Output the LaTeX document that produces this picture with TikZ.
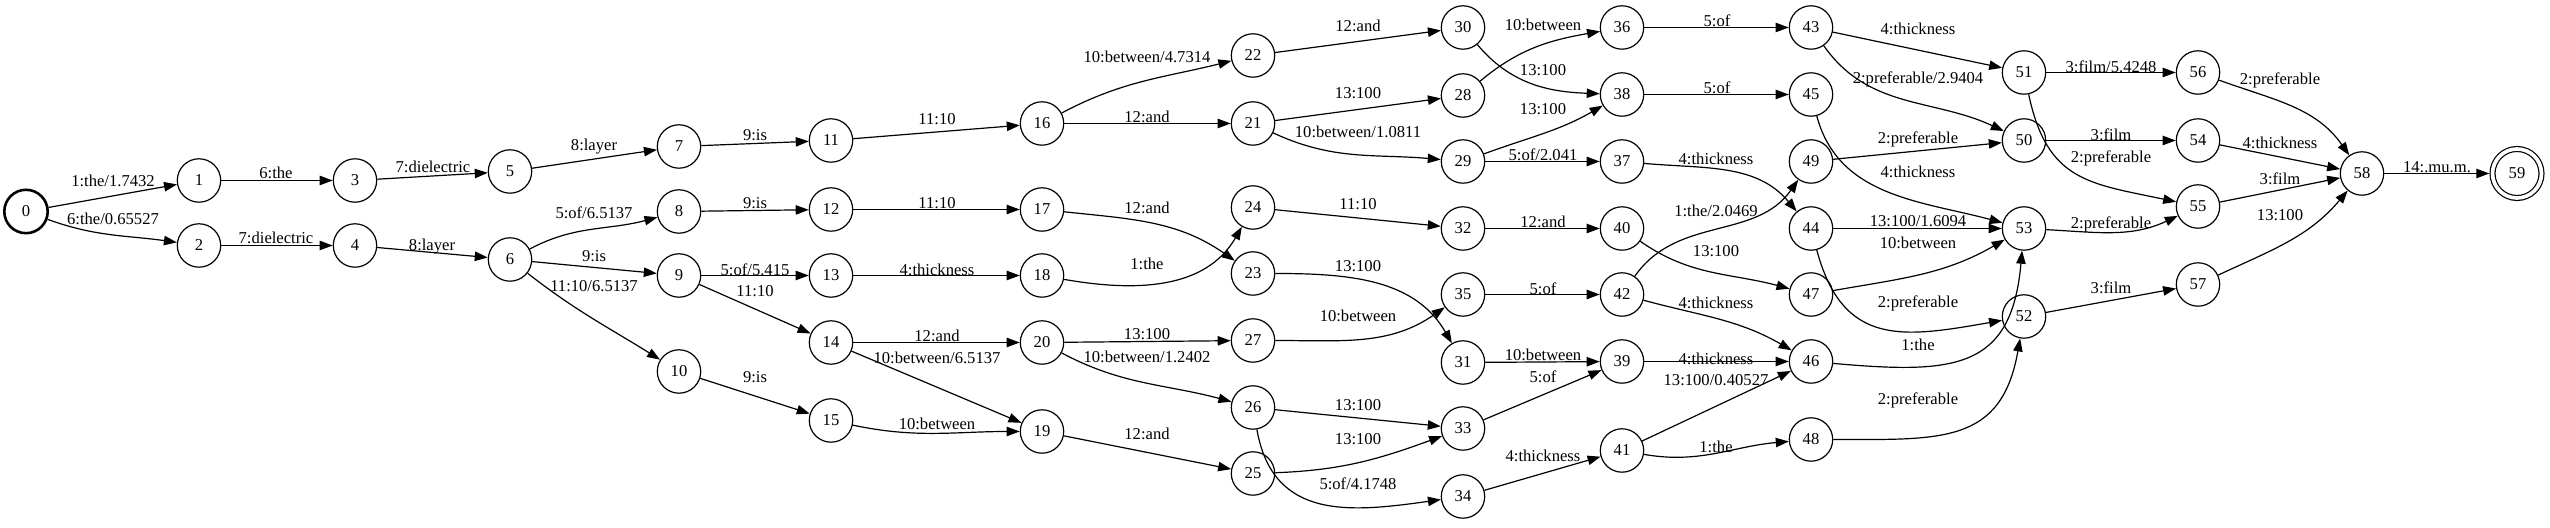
\documentclass[tikz,border=0pt]{standalone}
\usepackage{fontspec}
\setmainfont{Liberation Serif}
\usepackage{tikz}
\usetikzlibrary{arrows.meta}

\begin{document}
\begin{tikzpicture}[
x=0.5pt, y=0.5pt,
line width=0.6pt,
font=\fontsize{8.3}{10}\selectfont,
state/.style={draw, circle, minimum size=21.7pt, inner sep=0pt},
startstate/.style={state, line width=1.3pt},
finalstate/.style={state, double, double distance=1.85pt, minimum size=24.5pt, outer sep=1.6pt},
lbl/.style={inner sep=0pt, text height=1.5ex, text depth=0pt},
>={Triangle[length=6.5pt,width=4.7pt]}
]
\useasboundingbox (0,0.5) rectangle (2550,528.5);

\node[startstate] (n0) at (26,317) {0};

\node[state] (n1) at (199,348) {1};
\node[state] (n2) at (199,283) {2};

\node[state] (n3) at (355,348) {3};
\node[state] (n4) at (355,283) {4};

\node[state] (n5) at (510,357) {5};
\node[state] (n6) at (510,269) {6};

\node[state] (n7) at (679,382) {7};
\node[state] (n8) at (679,317) {8};
\node[state] (n9) at (679,253) {9};
\node[state] (n10) at (679,157) {10};

\node[state] (n11) at (831,388) {11};
\node[state] (n12) at (831,319) {12};
\node[state] (n13) at (831,253) {13};
\node[state] (n14) at (831,186) {14};
\node[state] (n15) at (831,108) {15};

\node[state] (n16) at (1042,405) {16};
\node[state] (n17) at (1042,319) {17};
\node[state] (n18) at (1042,253) {18};
\node[state] (n20) at (1042,186) {20};
\node[state] (n19) at (1042,97) {19};

\node[state] (n22) at (1253,473) {22};
\node[state] (n21) at (1253,405) {21};
\node[state] (n24) at (1253,321) {24};
\node[state] (n23) at (1253,255) {23};
\node[state] (n27) at (1253,188) {27};
\node[state] (n26) at (1253,121) {26};
\node[state] (n25) at (1253,55) {25};

\node[state] (n30) at (1463,501) {30};
\node[state] (n28) at (1463,433) {28};
\node[state] (n29) at (1463,367) {29};
\node[state] (n32) at (1463,300) {32};
\node[state] (n35) at (1463,234) {35};
\node[state] (n31) at (1463,166) {31};
\node[state] (n33) at (1463,100) {33};
\node[state] (n34) at (1463,32) {34};

\node[state] (n36) at (1622,501) {36};
\node[state] (n38) at (1622,434) {38};
\node[state] (n37) at (1622,367) {37};
\node[state] (n40) at (1622,300) {40};
\node[state] (n42) at (1622,234) {42};
\node[state] (n39) at (1622,167) {39};
\node[state] (n41) at (1622,78) {41};

\node[state] (n43) at (1811,501) {43};
\node[state] (n45) at (1811,434) {45};
\node[state] (n49) at (1811,367) {49};
\node[state] (n44) at (1811,300) {44};
\node[state] (n47) at (1811,234) {47};
\node[state] (n46) at (1811,167) {46};
\node[state] (n48) at (1811,89) {48};

\node[state] (n51) at (2024,456) {51};
\node[state] (n50) at (2024,388) {50};
\node[state] (n53) at (2024,300) {53};
\node[state] (n52) at (2024,212) {52};

\node[state] (n56) at (2198,456) {56};
\node[state] (n54) at (2198,388) {54};
\node[state] (n55) at (2198,322) {55};
\node[state] (n57) at (2198,244) {57};

\node[state] (n58) at (2362,355) {58};

\node[finalstate] (n59) at (2517,355) {59};

\draw[->] (n0) -- (n1) node[lbl] at (113,349) {1:the/1.7432};
\draw[->] (n0) to[out=-20,in=172] (n2) node[lbl] at (113,311) {6:the/0.65527};
\draw[->] (n1) -- (n3) node[lbl] at (276,357) {6:the};
\draw[->] (n2) -- (n4) node[lbl] at (276,292) {7:dielectric};
\draw[->] (n3) -- (n5) node[lbl] at (433,363) {7:dielectric};
\draw[->] (n4) -- (n6) node[lbl] at (432,285) {8:layer};
\draw[->] (n5) -- (n7) node[lbl] at (594,385) {8:layer};
\draw[->] (n6) to[out=28,in=195] (n8) node[lbl] at (594,317) {5:of/6.5137};
\draw[->] (n6) -- (n9) node[lbl] at (594,274) {9:is};
\draw[->] (n6) to[out=-38,in=148] (n10) node[lbl] at (594,244) {11:10/6.5137};
\draw[->] (n7) -- (n11) node[lbl] at (755,395) {9:is};
\draw[->] (n8) -- (n12) node[lbl] at (755,327) {9:is};
\draw[->] (n9) -- (n13) node[lbl] at (755,260) {5:of/5.415};
\draw[->] (n9) -- (n14) node[lbl] at (755,239) {11:10};
\draw[->] (n10) -- (n15) node[lbl] at (755,153) {9:is};
\draw[->] (n11) -- (n16) node[lbl] at (937,411) {11:10};
\draw[->] (n12) -- (n17) node[lbl] at (937,327) {11:10};
\draw[->] (n13) -- (n18) node[lbl] at (937,260) {4:thickness};
\draw[->] (n14) -- (n20) node[lbl] at (937,194) {12:and};
\draw[->] (n14) -- (n19) node[lbl] at (937,172) {10:between/6.5137};
\draw[->] (n15) to[out=-12,in=180] (n19) node[lbl] at (937,106) {10:between};
\draw[->] (n16) to[out=28,in=194] (n22) node[lbl] at (1147,473) {10:between/4.7314};
\draw[->] (n16) -- (n21) node[lbl] at (1147,413) {12:and};
\draw[->] (n17) to[out=-6,in=145] (n23) node[lbl] at (1147,322) {12:and};
\draw[->] (n18) to[out=-10,in=-120] (n24) node[lbl] at (1147,266) {1:the};
\draw[->] (n19) -- (n25) node[lbl] at (1147,96) {12:and};
\draw[->] (n20) -- (n27) node[lbl] at (1147,196) {13:100};
\draw[->] (n20) to[out=-28,in=165] (n26) node[lbl] at (1147,173) {10:between/1.2402};
\draw[->] (n21) -- (n28) node[lbl] at (1358,437) {13:100};
\draw[->] (n21) to[out=-25,in=175] (n29) node[lbl] at (1358,398) {10:between/1.0811};
\draw[->] (n22) -- (n30) node[lbl] at (1358,504) {12:and};
\draw[->] (n23) to[out=0,in=120] (n31) node[lbl] at (1358,264) {13:100};
\draw[->] (n24) -- (n32) node[lbl] at (1358,326) {11:10};
\draw[->] (n25) to[out=2,in=-160] (n33) node[lbl] at (1358,91) {13:100};
\draw[->] (n26) -- (n33) node[lbl] at (1358,125) {13:100};
\draw[->] (n26) to[out=-80,in=188,looseness=1.2] (n34) node[lbl] at (1358,46) {5:of/4.1748};
\draw[->] (n27) to[out=0,in=-145] (n35) node[lbl] at (1358,214) {10:between};
\draw[->] (n28) to[out=40,in=190] (n36) node[lbl] at (1543,505) {10:between};
\draw[->] (n29) to[out=20,in=-150] (n38) node[lbl] at (1543,421) {13:100};
\draw[->] (n29) -- (n37) node[lbl] at (1543,375) {5:of/2.041};
\draw[->] (n30) to[out=-50,in=178] (n38) node[lbl] at (1543,460) {13:100};
\draw[->] (n31) -- (n39) node[lbl] at (1543,175) {10:between};
\draw[->] (n32) -- (n40) node[lbl] at (1543,308) {12:and};
\draw[->] (n33) -- (n39) node[lbl] at (1543,153) {5:of};
\draw[->] (n34) -- (n41) node[lbl] at (1543,74) {4:thickness};
\draw[->] (n35) -- (n42) node[lbl] at (1543,241) {5:of};
\draw[->] (n36) -- (n43) node[lbl] at (1717,509) {5:of};
\draw[->] (n37) to[out=-5,in=130] (n44) node[lbl] at (1716,371) {4:thickness};
\draw[->] (n38) -- (n45) node[lbl] at (1717,442) {5:of};
\draw[->] (n39) -- (n46) node[lbl] at (1716,171) {4:thickness};
\draw[->] (n40) to[out=-35,in=165] (n47) node[lbl] at (1716,279) {13:100};
\draw[->] (n41) -- (n46) node[lbl] at (1716,150) {13:100/0.40527};
\draw[->] (n41) to[out=-10,in=185] (n48) node[lbl] at (1716,83) {1:the};
\draw[->] (n42) to[out=55,in=-125] (n49) node[lbl] at (1716,319) {1:the/2.0469};
\draw[->] (n42) to[out=-15,in=150] (n46) node[lbl] at (1716,227) {4:thickness};
\draw[->] (n43) -- (n51) node[lbl] at (1918,501) {4:thickness};
\draw[->] (n43) to[out=-55,in=155] (n50) node[lbl] at (1918,452) {2:preferable/2.9404};
\draw[->] (n44) -- (n53) node[lbl] at (1918,309) {13:100/1.6094};
\draw[->] (n44) to[out=-75,in=190,looseness=1.3] (n52) node[lbl] at (1918,228) {2:preferable};
\draw[->] (n45) to[out=-75,in=165] (n53) node[lbl] at (1918,358) {4:thickness};
\draw[->] (n46) to[out=-5,in=-95,looseness=1.4] (n53) node[lbl] at (1918,185) {1:the};
\draw[->] (n47) to[out=10,in=-150] (n53) node[lbl] at (1918,287) {10:between};
\draw[->] (n48) to[out=0,in=-100,looseness=1.3] (n52) node[lbl] at (1918,131) {2:preferable};
\draw[->] (n49) -- (n50) node[lbl] at (1918,392) {2:preferable};
\draw[->] (n50) -- (n54) node[lbl] at (2111,395) {3:film};
\draw[->] (n51) -- (n56) node[lbl] at (2111,463) {3:film/5.4248};
\draw[->] (n51) to[out=-78,in=168,looseness=1.25] (n55) node[lbl] at (2111,373) {2:preferable};
\draw[->] (n52) -- (n57) node[lbl] at (2111,242) {3:film};
\draw[->] (n53) to[out=-3,in=-155] (n55) node[lbl] at (2111,307) {2:preferable};
\draw[->] (n54) -- (n58) node[lbl] at (2280,387) {4:thickness};
\draw[->] (n55) -- (n58) node[lbl] at (2280,351) {3:film};
\draw[->] (n56) to[out=-20,in=125] (n58) node[lbl] at (2280,451) {2:preferable};
\draw[->] (n57) to[out=25,in=-130] (n58) node[lbl] at (2280,315) {13:100};
\draw[->] (n58) -- (n59) node[lbl] at (2437,363) {14:.mu.m.};

\end{tikzpicture}
\end{document}
